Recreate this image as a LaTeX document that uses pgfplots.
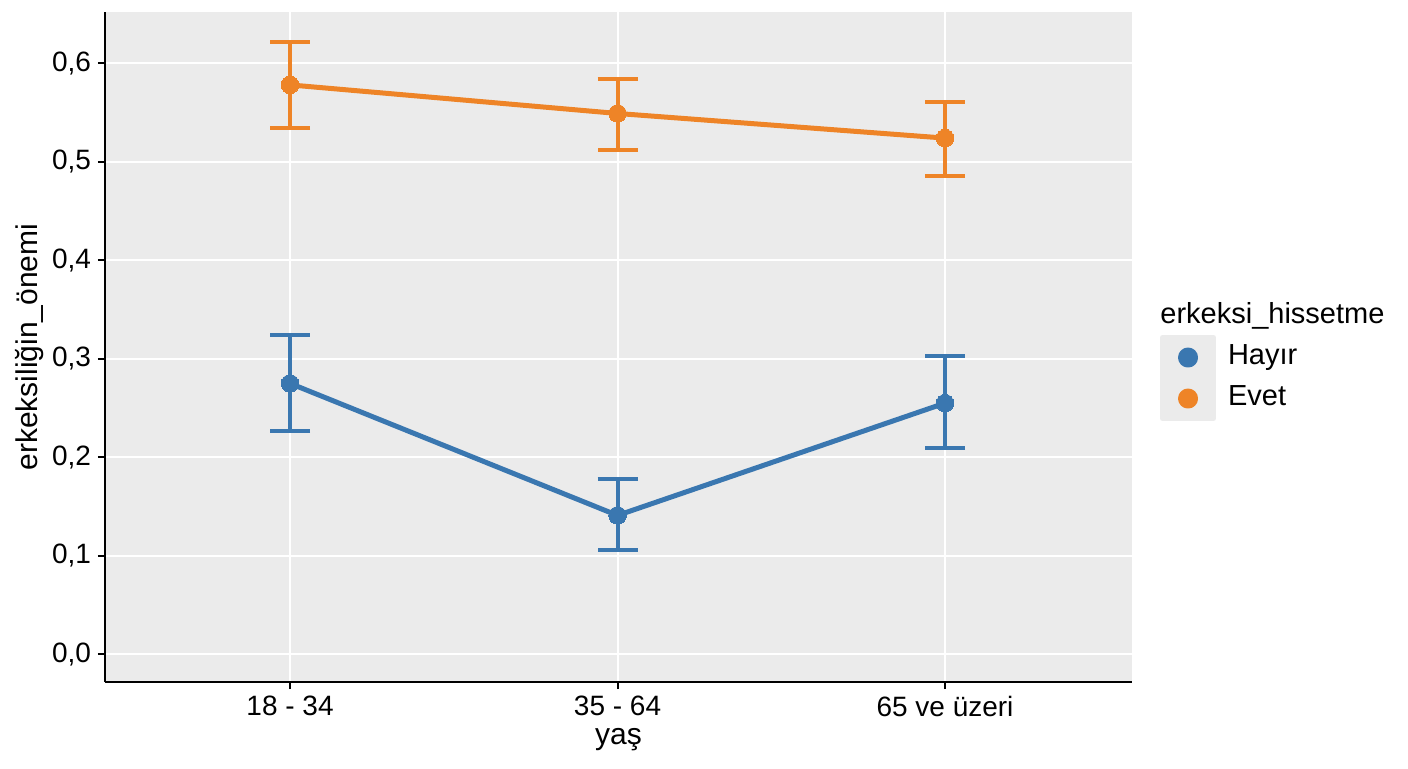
\documentclass[border=0pt]{standalone}
\usepackage{fontspec}
\setmainfont{Liberation Sans}
\usepackage{pgfplots}
\pgfplotsset{compat=1.18}

\definecolor{hayir}{HTML}{3A77B0}
\definecolor{evet}{HTML}{EE8427}
\definecolor{panel}{HTML}{EBEBEB}

\begin{document}
\begin{tikzpicture}
  \begin{axis}[
    width=513.5pt, height=335pt, scale only axis,
    xmin=-0.565, xmax=2.571,
    ymin=-0.0281, ymax=0.652,
    axis x line=bottom, axis y line=left,
    axis line style={-, black, line width=1pt},
    axis background/.style={fill=panel},
    grid=major,
    major grid style={white, line width=1pt},
    tick align=outside, major tick length=3.5pt,
    tick style={black, line width=1pt},
    xtick={0,1,2},
    xticklabels={18 - 34, 35 - 64, 65 ve üzeri},
    ytick={0,0.1,0.2,0.3,0.4,0.5,0.6},
    yticklabel style={/pgf/number format/.cd, fixed, fixed zerofill, precision=1, use comma},
    /pgf/number format/assume math mode=true,
    tick label style={font=\fontsize{14}{16}\selectfont},
    label style={font=\fontsize{15}{18}\selectfont},
    xlabel={yaş},
    ylabel={erkeksiliğin\_önemi},
    xlabel style={at={(axis description cs:0.5,-0.0866)}, anchor=center},
    ylabel style={at={(axis description cs:-0.073,0.5)}, anchor=center},
    legend cell align=left,
    legend style={at={(1.0273,0.5149)}, anchor=north west,
      draw=none, fill=none, inner sep=0pt, outer sep=0pt,
      row sep=0pt, column sep=6pt,
      font=\fontsize{14.5}{17}\selectfont,
      nodes={inner sep=0pt, text height=9.5pt, text depth=2.5pt}},
    ]
    % Hayir
    \addplot[hayir, line width=2.5pt, line join=round,
      mark=*, mark size=4.4pt, mark options={solid, fill=hayir, draw=hayir, line width=0pt},
      legend image code/.code={
        \path (0pt,-9pt) rectangle (25.5pt,9pt);
        \fill[panel, overlay] (0pt,-10pt) rectangle (25.5pt,10pt);
        \fill[hayir] (12.75pt,0pt) circle (3.75pt);},
      error bars/.cd, y dir=both, y explicit,
      error bar style={line width=2pt, hayir},
      error mark options={rotate=90, line width=2pt, mark size=10pt, hayir}]
    coordinates {
      (0, 0.275) += (0, 0.049) -= (0, 0.048)
      (1, 0.141) += (0, 0.037) -= (0, 0.035)
      (2, 0.255) += (0, 0.048) -= (0, 0.046)
    };
    \addlegendentry{Hayır}
    % Evet
    \addplot[evet, line width=2.5pt, line join=round,
      mark=*, mark size=4.4pt, mark options={solid, fill=evet, draw=evet, line width=0pt},
      legend image code/.code={
        \path (0pt,-9pt) rectangle (25.5pt,9pt);
        \fill[panel, overlay] (0pt,-10pt) rectangle (25.5pt,10pt);
        \fill[evet] (12.75pt,0pt) circle (3.75pt);},
      error bars/.cd, y dir=both, y explicit,
      error bar style={line width=2pt, evet},
      error mark options={rotate=90, line width=2pt, mark size=10pt, evet}]
    coordinates {
      (0, 0.578) += (0, 0.044) -= (0, 0.044)
      (1, 0.549) += (0, 0.035) -= (0, 0.037)
      (2, 0.524) += (0, 0.037) -= (0, 0.038)
    };
    \addlegendentry{Evet}
  \end{axis}
  \node[anchor=west, inner sep=0pt, font=\fontsize{14.5}{17}\selectfont]
    at (527.5pt,183pt) {erkeksi\_hissetme};
  \pgfresetboundingbox
  \path[use as bounding box] (-52.5pt,-43pt) rectangle (651.5pt,341pt);
\end{tikzpicture}
\end{document}
